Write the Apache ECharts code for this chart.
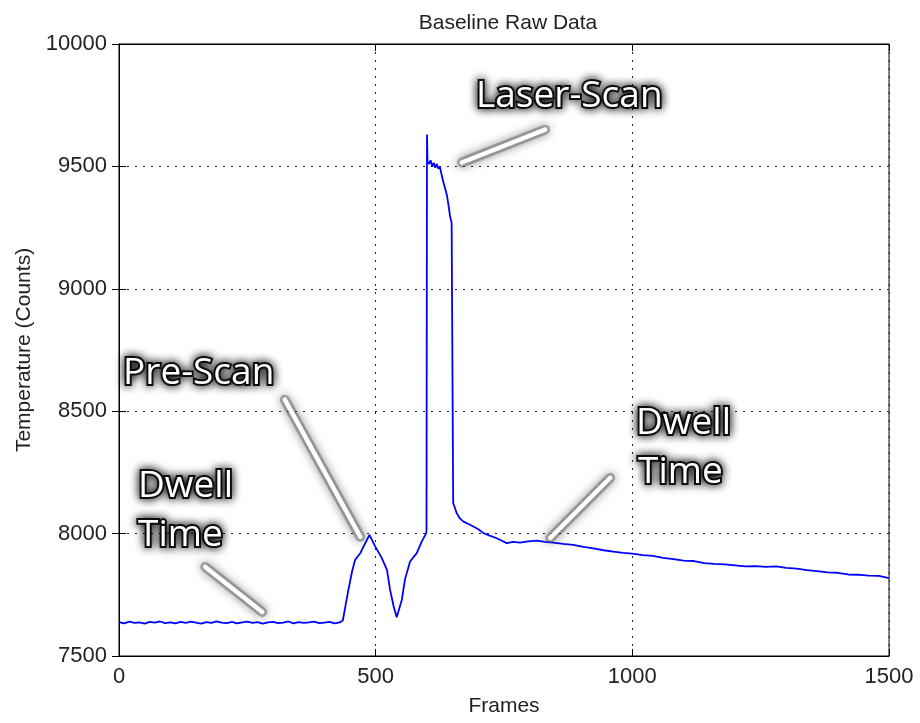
<!doctype html>
<html lang="en">
  <head>
    <meta charset="UTF-8" />
    <title>Baseline Raw Data</title>
    <script src="https://cdn.jsdelivr.net/npm/echarts@6/dist/echarts.min.js"></script>
    <style>
      html, body { margin: 0; padding: 0; background: #fff; }
      #chart { width: 920px; height: 723px; }
    </style>
  </head>
  <body>
    <div id="chart"></div>
    <script>
      // Frame numbers and raw counts
      const frames = [
        0, 10, 20, 30, 40, 50, 60, 70, 80, 90,
        100, 110, 120, 130, 140, 150, 160, 170, 180, 190,
        200, 210, 220, 230, 240, 250, 260, 270, 280, 290,
        300, 310, 320, 330, 340, 350, 360, 370, 380, 390,
        400, 410, 420, 430,
        // pre-scan bump
        436, 441, 447, 454, 460, 470, 480, 488, 499, 512,
        522, 528, 535, 541, 551, 557, 567, 580, 590, 598,
        // laser scan
        599, 600, 601, 604, 607, 610, 613, 616, 619, 622,
        625, 628, 632, 636, 639, 642, 645, 648, 650,
        // cool-down
        651, 658, 664, 671, 680, 690, 700, 710, 722, 736,
        745, 755, 768, 781, 797, 814, 830, 846, 865, 885,
        905, 924, 944, 963, 982,
        1000, 1020, 1040, 1060, 1080, 1100, 1120, 1140, 1160, 1180,
        1200, 1220, 1240, 1260, 1280, 1300, 1320, 1340, 1360, 1380,
        1400, 1420, 1440, 1460, 1480, 1500
      ];
      const temps = [
        7638, 7633, 7640, 7635, 7637, 7632, 7639, 7636, 7641, 7634,
        7637, 7633, 7639, 7635, 7640, 7636, 7632, 7638, 7635, 7641,
        7636, 7634, 7639, 7633, 7637, 7640, 7635, 7638, 7632, 7637,
        7639, 7634, 7636, 7641, 7633, 7638, 7635, 7637, 7640, 7634,
        7636, 7639, 7633, 7637,
        7645, 7703, 7772, 7845, 7893, 7920, 7962, 7995, 7948, 7900,
        7852, 7771, 7703, 7658, 7730, 7812, 7886, 7920, 7968, 8000,
        8010, 9630, 9520, 9510, 9525, 9500, 9515, 9495, 9510, 9490,
        9500, 9470, 9435, 9405, 9380, 9340, 9295, 9270, 9265,
        8125, 8083, 8062, 8049, 8040, 8029, 8018, 8002, 7992, 7981,
        7972, 7961, 7966, 7963, 7968, 7971, 7966, 7963, 7958, 7954,
        7946, 7940, 7932, 7926, 7921,
        7918, 7912, 7909, 7901, 7896, 7890, 7888, 7879, 7876, 7874,
        7870, 7866, 7867, 7864, 7866, 7860, 7857, 7851, 7847, 7842,
        7840, 7833, 7832, 7828, 7827, 7818
      ];

      // callout arrows in data coordinates [frame, counts]
      const arrowFrom = [[830, 9650], [323, 8547], [168, 7864], [957, 8228]];
      const arrowTo = [[668, 9516], [470, 7987], [279, 7680], [840, 7982]];

      const chart = echarts.init(document.getElementById('chart'));
      const axisFont = '"Liberation Sans", Arial, sans-serif';
      const calloutFont = '37px "Open Sans", "Noto Sans", sans-serif';
      const arrowData = arrowFrom.map((p, i) => [{ coord: p }, { coord: arrowTo[i] }]);

      function callout(text, x, y) {
        return {
          type: 'text',
          x: x,
          y: y,
          z: 100,
          style: {
            text: text,
            font: calloutFont,
            fill: '#fff',
            stroke: '#111',
            lineWidth: 4,
            strokeFirst: true,
            textVerticalAlign: 'middle',
            textShadowBlur: 10,
            textShadowColor: 'rgba(0,0,0,0.9)',
          },
        };
      }

      function arrowLayer(style) {
        return {
          type: 'line',
          data: [],
          silent: true,
          z: 5,
          markLine: {
            silent: true,
            animation: false,
            symbol: ['none', 'none'],
            label: { show: false },
            lineStyle: Object.assign({ type: 'solid', cap: 'round' }, style),
            data: arrowData,
          },
        };
      }

      const tickStyle = { show: true, inside: true, length: 7, lineStyle: { color: '#000', width: 1 } };
      const lineStyle = { show: true, lineStyle: { color: '#000', width: 1 } };
      const gridDots = { show: true, lineStyle: { color: '#222', width: 1, type: [2, 6] } };
      const plain = (v) => String(v);

      chart.setOption({
        animation: false,
        backgroundColor: '#fff',
        title: {
          text: 'Baseline Raw Data',
          left: 503,
          textAlign: 'center',
          top: 8,
          textStyle: { fontFamily: axisFont, fontSize: 21, fontWeight: 'normal', color: '#222' },
        },
        grid: { left: 119, right: 31, top: 44, bottom: 67, show: true, borderColor: '#000', borderWidth: 1 },
        xAxis: [
          {
            type: 'value', min: 0, max: 1500, interval: 500,
            name: 'Frames', nameLocation: 'middle', nameGap: 40,
            nameTextStyle: { fontFamily: axisFont, fontSize: 21, color: '#222' },
            axisLine: lineStyle, axisTick: tickStyle, splitLine: gridDots,
            axisLabel: { fontFamily: axisFont, fontSize: 22, color: '#222', margin: 10, formatter: plain },
          },
          {
            type: 'value', min: 0, max: 1500, interval: 500, position: 'top',
            axisLine: lineStyle, axisTick: tickStyle, splitLine: { show: false },
            axisLabel: { show: false },
          },
        ],
        yAxis: [
          {
            type: 'value', min: 7500, max: 10000, interval: 500,
            name: 'Temperature (Counts)', nameLocation: 'middle', nameGap: 84,
            nameTextStyle: { fontFamily: axisFont, fontSize: 21, color: '#222' },
            axisLine: lineStyle, axisTick: tickStyle, splitLine: gridDots,
            axisLabel: { fontFamily: axisFont, fontSize: 22, color: '#222', margin: 12, formatter: plain },
          },
          {
            type: 'value', min: 7500, max: 10000, interval: 500, position: 'right',
            axisLine: lineStyle, axisTick: tickStyle, splitLine: { show: false },
            axisLabel: { show: false },
          },
        ],
        series: [
          {
            type: 'line',
            data: frames.map((f, i) => [f, temps[i]]),
            showSymbol: false,
            z: 3,
            lineStyle: { color: '#0000ff', width: 1.8 },
          },
          // grey glow under the callout arrows
          arrowLayer({ color: 'rgba(90,90,90,0.45)', width: 10, shadowBlur: 10, shadowColor: 'rgba(0,0,0,0.85)' }),
          // white core of the callout arrows
          arrowLayer({ color: '#fff', width: 4.5 }),
        ],
        graphic: [
          callout('Laser-Scan', 476, 96),
          callout('Pre-Scan', 123, 373),
          callout('Dwell', 138, 486),
          callout('Time', 138, 535),
          callout('Dwell', 636, 423),
          callout('Time', 638, 472),
        ],
      });
    </script>
  </body>
</html>
